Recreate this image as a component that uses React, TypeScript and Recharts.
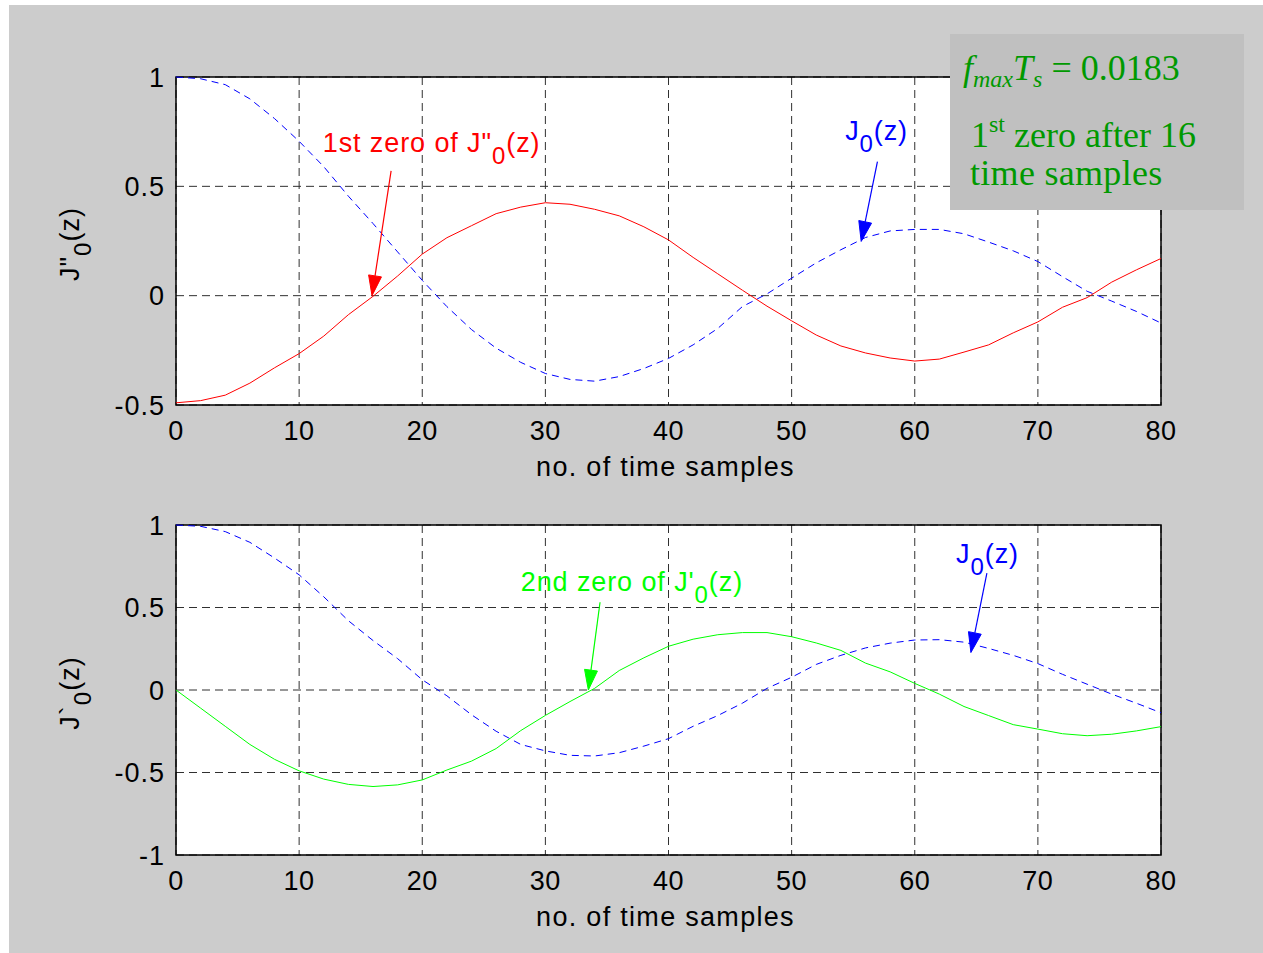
import React from 'react';
import {
  LineChart,
  Line,
  XAxis,
  YAxis,
  CartesianGrid,
  ReferenceArea,
  ReferenceLine,
  ReferenceDot,
} from 'recharts';

// sample index (no. of time samples)
const samples = [
  0, 2, 4, 6, 8, 10, 12, 14, 16, 18, 20, 22, 24, 26, 28, 30, 32, 34, 36, 38, 40,
  42, 44, 46, 48, 50, 52, 54, 56, 58, 60, 62, 64, 66, 68, 70, 72, 74, 76, 78, 80,
];

// top panel: J0(z) (blue dashed) and J''0(z) (red)
const topJ0 = [
  1.0, 0.992, 0.965, 0.9, 0.81, 0.706, 0.59, 0.455, 0.33, 0.2, 0.07, -0.05, -0.155,
  -0.24, -0.305, -0.356, -0.383, -0.391, -0.37, -0.333, -0.287, -0.225, -0.15, -0.05,
  0.008, 0.08, 0.15, 0.21, 0.266, 0.296, 0.303, 0.303, 0.283, 0.245, 0.205, 0.156,
  0.087, 0.02, -0.025, -0.072, -0.125,
];
const topD2 = [
  -0.49, -0.48, -0.455, -0.4, -0.33, -0.265, -0.185, -0.087, -0.003, 0.09, 0.19, 0.265,
  0.32, 0.375, 0.405, 0.425, 0.418, 0.395, 0.365, 0.315, 0.255, 0.175, 0.1, 0.025,
  -0.048, -0.115, -0.18, -0.23, -0.262, -0.285, -0.299, -0.29, -0.258, -0.225, -0.17,
  -0.12, -0.053, -0.009, 0.062, 0.118, 0.17,
];

// bottom panel: J0(z) (blue dashed) and J'0(z) (green)
const botJ0 = [
  1.0, 0.992, 0.96, 0.895, 0.8, 0.698, 0.565, 0.42, 0.3, 0.19, 0.062, -0.035, -0.15,
  -0.25, -0.33, -0.369, -0.396, -0.4, -0.38, -0.34, -0.295, -0.22, -0.155, -0.08, 0.01,
  0.077, 0.155, 0.21, 0.255, 0.284, 0.303, 0.305, 0.29, 0.252, 0.21, 0.16, 0.095, 0.035,
  -0.025, -0.08, -0.138,
];
const botD1 = [
  0, -0.11, -0.22, -0.33, -0.42, -0.49, -0.54, -0.572, -0.585, -0.575, -0.545, -0.485,
  -0.431, -0.355, -0.246, -0.154, -0.07, 0.01, 0.118, 0.195, 0.265, 0.308, 0.335, 0.348,
  0.348, 0.323, 0.285, 0.24, 0.163, 0.11, 0.04, -0.025, -0.1, -0.155, -0.21, -0.237,
  -0.265, -0.277, -0.268, -0.248, -0.222,
];

const xTicks = [0, 10, 20, 30, 40, 50, 60, 70, 80];
const topYTicks = [-0.5, 0, 0.5, 1];
const botYTicks = [-1, -0.5, 0, 0.5, 1];
const xLabel = 'no. of time samples';

const topData = samples.map((n, i) => ({ n, j0: topJ0[i], d2: topD2[i] }));
const botData = samples.map((n, i) => ({ n, j0: botJ0[i], d1: botD1[i] }));

const FONT = '"Liberation Sans", Arial, Helvetica, sans-serif';
const SERIF = '"Liberation Serif", "Times New Roman", Times, serif';
const FS = 27;
const SUB = 24;
const SUBDY = 12;

const XTick = (props: any) => (
  <text x={props.x} y={props.y + 35} textAnchor="middle" fontFamily={FONT} fontSize={FS} fill="#000" letterSpacing={0.5}>
    {props.payload.value}
  </text>
);

const YTick = (props: any) => (
  <text x={props.x - 11} y={props.y + 9.5} textAnchor="end" fontFamily={FONT} fontSize={FS} fill="#000" letterSpacing={1}>
    {props.payload.value}
  </text>
);

const xLabelContent = (props: any) => {
  const vb = props.viewBox;
  return (
    <text x={vb.x + vb.width / 2 - 3} y={vb.y + 71} textAnchor="middle" fontFamily={FONT} fontSize={FS} fill="#000" letterSpacing={1.3}>
      {xLabel}
    </text>
  );
};

const makeYLabel = (prime: string) => (props: any) => {
  const vb = props.viewBox;
  const cx = 70;
  const cy = vb.y + vb.height / 2 + 3;
  return (
    <text
      x={cx}
      y={cy}
      transform={`rotate(-90, ${cx}, ${cy})`}
      textAnchor="middle"
      fontFamily={FONT}
      fontSize={FS}
      fill="#000"
      letterSpacing={1}
    >
      {'J' + prime}
      <tspan fontSize={SUB} dy={SUBDY}>0</tspan>
      <tspan dy={-SUBDY}>(z)</tspan>
    </text>
  );
};

const arrowShape = (color: string) => (props: any) => {
  const { x1, y1, x2, y2 } = props;
  const dx = x2 - x1;
  const dy = y2 - y1;
  const len = Math.sqrt(dx * dx + dy * dy) || 1;
  const ux = dx / len;
  const uy = dy / len;
  const hl = 20;
  const hw = 6.5;
  const bx = x2 - ux * hl;
  const by = y2 - uy * hl;
  const px = -uy * hw;
  const py = ux * hw;
  return (
    <g>
      <line x1={x1} y1={y1} x2={bx} y2={by} stroke={color} strokeWidth={1.2} />
      <polygon points={`${x2},${y2} ${bx + px},${by + py} ${bx - px},${by - py}`} fill={color} stroke={color} />
    </g>
  );
};

const annoText = (color: string, before: string, after: string) => (props: any) => (
  <text x={props.cx} y={props.cy} textAnchor="start" fontFamily={FONT} fontSize={FS} fill={color} letterSpacing={0.9}>
    {before}
    <tspan fontSize={SUB} dy={SUBDY}>0</tspan>
    <tspan dy={-SUBDY}>{after}</tspan>
  </text>
);

const W = 1254;
const GRID = '#303030';

export default function App() {
  return (
    <div
      style={{
        position: 'absolute',
        left: 9,
        top: 5,
        width: W,
        height: 948,
        background: '#cccccc',
        overflow: 'hidden',
      }}
    >
      <div style={{ position: 'absolute', left: 0, top: 0 }}>
        <LineChart width={W} height={480} data={topData} margin={{ top: 72, right: 102, left: 107, bottom: 5 }}>
          <CartesianGrid stroke={GRID} strokeDasharray="8 5" fill="#ffffff" fillOpacity={1} />
          <XAxis
            dataKey="n"
            type="number"
            domain={[0, 80]}
            ticks={xTicks}
            height={75}
            tickSize={0}
            tickMargin={0}
            axisLine={false}
            tick={XTick}
            interval={0}
            label={{ content: xLabelContent }}
          />
          <YAxis
            type="number"
            domain={[-0.5, 1]}
            ticks={topYTicks}
            width={60}
            tickSize={0}
            tickMargin={0}
            axisLine={false}
            tick={YTick}
            interval={0}
            label={{ content: makeYLabel('"') }}
          />
          <ReferenceArea x1={0} x2={80} y1={-0.5} y2={1} fill="none" stroke="#000" strokeWidth={1.5} />
          <Line dataKey="j0" type="linear" stroke="#0000ff" strokeWidth={1} strokeDasharray="7 5" dot={false} isAnimationActive={false} />
          <Line dataKey="d2" type="linear" stroke="#ff0000" strokeWidth={1} dot={false} isAnimationActive={false} />
          <ReferenceLine segment={[{ x: 17.47, y: 0.571 }, { x: 15.92, y: 0 }]} shape={arrowShape('#ff0000')} />
          <ReferenceLine segment={[{ x: 56.97, y: 0.613 }, { x: 55.65, y: 0.248 }]} shape={arrowShape('#0000ff')} />
          <ReferenceDot x={11.92} y={0.659} r={0} shape={annoText('#ff0000', '1st zero of J"', '(z)')} />
          <ReferenceDot x={54.35} y={0.712} r={0} shape={annoText('#0000ff', 'J', '(z)')} />
        </LineChart>
      </div>
      <div style={{ position: 'absolute', left: 0, top: 480 }}>
        <LineChart width={W} height={468} data={botData} margin={{ top: 40, right: 102, left: 107, bottom: 23 }}>
          <CartesianGrid stroke={GRID} strokeDasharray="8 5" fill="#ffffff" fillOpacity={1} />
          <XAxis
            dataKey="n"
            type="number"
            domain={[0, 80]}
            ticks={xTicks}
            height={75}
            tickSize={0}
            tickMargin={0}
            axisLine={false}
            tick={XTick}
            interval={0}
            label={{ content: xLabelContent }}
          />
          <YAxis
            type="number"
            domain={[-1, 1]}
            ticks={botYTicks}
            width={60}
            tickSize={0}
            tickMargin={0}
            axisLine={false}
            tick={YTick}
            interval={0}
            label={{ content: makeYLabel('`') }}
          />
          <ReferenceArea x1={0} x2={80} y1={-1} y2={1} fill="none" stroke="#000" strokeWidth={1.5} />
          <Line dataKey="j0" type="linear" stroke="#0000ff" strokeWidth={1} strokeDasharray="7 5" dot={false} isAnimationActive={false} />
          <Line dataKey="d1" type="linear" stroke="#00ff00" strokeWidth={1} dot={false} isAnimationActive={false} />
          <ReferenceLine segment={[{ x: 34.44, y: 0.532 }, { x: 33.49, y: 0 }]} shape={arrowShape('#00ff00')} />
          <ReferenceLine segment={[{ x: 65.86, y: 0.709 }, { x: 64.56, y: 0.227 }]} shape={arrowShape('#0000ff')} />
          <ReferenceDot x={28.0} y={0.599} r={0} shape={annoText('#00ff00', "2nd zero of J'", '(z)')} />
          <ReferenceDot x={63.36} y={0.77} r={0} shape={annoText('#0000ff', 'J', '(z)')} />
        </LineChart>
      </div>
      <svg style={{ position: 'absolute', left: 941, top: 29 }} width={294} height={176}>
        <rect x={0} y={0} width={294} height={176} fill="#c0c0c0" />
        <text x={13} y={46} fontFamily={SERIF} fontSize={36} fill="#009900">
          <tspan fontStyle="italic">f</tspan>
          <tspan fontStyle="italic" fontSize={24} dy={7}>max</tspan>
          <tspan fontStyle="italic" dy={-7}>T</tspan>
          <tspan fontStyle="italic" fontSize={24} dy={7}>s</tspan>
          <tspan dy={-7}>{' = 0.0183'}</tspan>
        </text>
        <text x={21} y={113} fontFamily={SERIF} fontSize={36} fill="#009900">
          1<tspan fontSize={24} dy={-15}>st</tspan>
          <tspan dy={15}>{' zero after 16'}</tspan>
        </text>
        <text x={20} y={151} fontFamily={SERIF} fontSize={36} fill="#009900" letterSpacing={0.3}>
          time samples
        </text>
      </svg>
    </div>
  );
}
